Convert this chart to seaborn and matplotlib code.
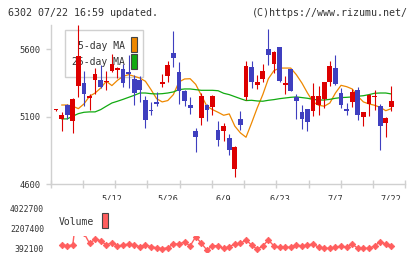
import matplotlib
matplotlib.use('Agg')
import matplotlib.pyplot as plt
import seaborn as sns
import pandas as pd
import numpy as np
from matplotlib.patches import Rectangle

# daily candles, 61 trading days (index 10 = 5/12 ... index 60 = 7/22)
opens = [5149, 5082, 5191, 5068, 5327, 5354, 5240, 5371, 5376, 5359,
         5438, 5450, 5457, 5435, 5383, 5376, 5228, 5151, 5208, 5344,
         5401, 5576, 5435, 5295, 5186, 4998, 5090, 5186, 5171, 5006,
         4994, 4944, 4717, 5087, 5245, 5472, 5334, 5383, 5605, 5494,
         5620, 5334, 5457, 5250, 5137, 5161, 5142, 5186, 5235, 5356,
         5460, 5277, 5161, 5208, 5302, 5097, 5198, 5245, 5184, 5053, 5176]
highs = [5155, 5134, 5196, 5240, 5780, 5443, 5272, 5460, 5487, 5438,
         5566, 5472, 5492, 5561, 5408, 5401, 5253, 5211, 5285, 5420,
         5517, 5734, 5507, 5297, 5248, 5018, 5277, 5196, 5265, 5073,
         5055, 4976, 4885, 5147, 5512, 5512, 5413, 5492, 5753, 5586,
         5620, 5406, 5457, 5272, 5191, 5161, 5351, 5332, 5359, 5512,
         5561, 5314, 5203, 5309, 5322, 5137, 5270, 5299, 5196, 5102, 5332]
lows = [5147, 4994, 5087, 4979, 5245, 5179, 5149, 5270, 5312, 5302,
        5433, 5388, 5319, 5314, 5186, 5211, 5016, 5117, 5179, 5319,
        5359, 5467, 5198, 5179, 5122, 4841, 5038, 5068, 5112, 4883,
        4920, 4821, 4653, 5006, 5228, 5314, 5307, 5356, 5482, 5425,
        5356, 5272, 5290, 5085, 5011, 4994, 5105, 5117, 5166, 5327,
        5339, 5166, 5117, 5171, 5075, 5031, 5105, 5154, 4858, 4949, 5147]
closes = [5153, 5117, 5112, 5235, 5554, 5267, 5253, 5420, 5324, 5369,
          5494, 5460, 5349, 5415, 5280, 5297, 5075, 5142, 5198, 5361,
          5487, 5534, 5290, 5221, 5166, 4949, 5257, 5149, 5257, 4927,
          5031, 4858, 4880, 5038, 5477, 5356, 5361, 5443, 5556, 5581,
          5364, 5354, 5290, 5216, 5087, 5060, 5253, 5257, 5359, 5480,
          5344, 5186, 5142, 5285, 5112, 5134, 5265, 5255, 5031, 5090, 5220]

# moving averages and volume, from index 1 to 60
ma5 = [5188, 5188, 5179, 5161, 5196, 5253, 5277, 5314, 5364, 5332,
       5371, 5401, 5413, 5401, 5388, 5364, 5302, 5235, 5211, 5221,
       5265, 5359, 5381, 5383, 5341, 5260, 5179, 5154, 5134, 5112,
       5122, 5031, 4981, 4949, 5055, 5166, 5265, 5383, 5443, 5462,
       5462, 5462, 5413, 5351, 5277, 5211, 5186, 5179, 5203, 5277,
       5334, 5324, 5307, 5253, 5211, 5196, 5186, 5171, 5146, 5161]
ma25 = [5085, 5085, 5105, 5124, 5134, 5137, 5137, 5154, 5179, 5203,
        5216, 5230, 5245, 5260, 5277, 5277, 5272, 5270, 5272, 5277,
        5285, 5302, 5307, 5307, 5302, 5297, 5297, 5297, 5294, 5275,
        5265, 5250, 5235, 5221, 5223, 5218, 5216, 5223, 5228, 5235,
        5240, 5245, 5248, 5243, 5238, 5230, 5225, 5225, 5230, 5238,
        5243, 5245, 5248, 5253, 5257, 5265, 5275, 5277, 5277, 5270]
volume = [692000, 628000, 692000, 4900000, 1770000, 846000, 1209000, 1082000, 692000, 901000,
          601000, 692000, 782000, 692000, 537000, 692000, 537000, 447000, 356000, 447000,
          782000, 782000, 964000, 601000, 1445000, 846000, 238000, 628000, 628000, 392000,
          537000, 782000, 846000, 1145000, 692000, 301000, 601000, 1145000, 601000, 483000,
          483000, 483000, 692000, 601000, 692000, 782000, 483000, 392000, 392000, 483000,
          601000, 483000, 782000, 392000, 392000, 392000, 601000, 991000, 782000, 601000]

date_pos = [10, 20, 30, 40, 50, 60]
date_labels = ['5/12', '5/26', '6/9', '6/23', '7/7', '7/22']
price_ticks = [4600, 5100, 5600]
vol_ticks = [392100, 2207400, 4022700]

red = '#dd0000'
blue = '#3f3fbf'
orange = '#ee8800'
green = '#11aa11'
vol_color = '#ff5e5e'
axis_gray = '#d0d0d0'
text_col = '#333333'

sns.set_style('white')
plt.rcParams['font.family'] = ['DejaVu Sans Mono', 'DejaVu Sans']

fig = plt.figure(figsize=(4.2, 2.59), dpi=100)
ax = fig.add_axes([0.1207, 0.2884, 0.8443, 0.617])
axv = fig.add_axes([0.1207, 0.027, 0.8443, 0.2008])

df = pd.DataFrame({'i': range(len(opens)), 'o': opens, 'h': highs, 'l': lows, 'c': closes})
cols = np.where(df.c >= df.o, red, blue)
ax.vlines(df.i, df.l, df.h, colors=cols, lw=0.8, zorder=3)
body_low = np.minimum(df.o, df.c)
body_h = np.maximum(np.abs(df.c - df.o), 8)
ax.bar(df.i, body_h, bottom=body_low, width=0.85, color=cols, linewidth=0, zorder=4)

ma_x = list(range(1, 61))
sns.lineplot(x=ma_x, y=ma5, ax=ax, color=orange, lw=0.9, zorder=2)
sns.lineplot(x=ma_x, y=ma25, ax=ax, color=green, lw=0.9, zorder=2)

xlim = (-0.95, 62.5)
ax.set_xlim(*xlim)
ax.set_ylim(4600, 5785)
ax.set_xticks(np.linspace(xlim[0], xlim[1], 12))
ax.set_xticklabels([])
ax.set_xticks(date_pos, minor=True)
ax.set_xticklabels(date_labels, minor=True, fontsize=6.2, color=text_col)
ax.tick_params(axis='x', which='major', bottom=True, direction='inout', length=5.8,
               width=1, color=axis_gray)
ax.tick_params(axis='x', which='minor', bottom=True, length=0, pad=7.5)
ax.set_yticks(price_ticks)
ax.set_yticklabels([str(t) for t in price_ticks], fontsize=6.3, color=text_col)
ax.tick_params(axis='y', left=True, direction='out', length=3.6, width=1,
               color=axis_gray, pad=3.5)
for s in ['top', 'right']:
    ax.spines[s].set_visible(False)
for s in ['left', 'bottom']:
    ax.spines[s].set_color(axis_gray)
    ax.spines[s].set_linewidth(1)

# legend box
ax.add_patch(Rectangle((0.0403, 0.6715), 0.22, 0.294, transform=ax.transAxes,
                       facecolor='white', edgecolor=axis_gray, lw=1, zorder=1))
ax.text(0.2082, 0.8655, '5-day MA', transform=ax.transAxes, ha='right', va='center',
        fontsize=7, color=text_col, zorder=1.5)
ax.text(0.2082, 0.7653, '25-day MA', transform=ax.transAxes, ha='right', va='center',
        fontsize=7, color=text_col, zorder=1.5)
ax.add_patch(Rectangle((0.2265, 0.8279), 0.0169, 0.0939, transform=ax.transAxes,
                       facecolor=orange, edgecolor='#444444', lw=0.8, zorder=1.5))
ax.add_patch(Rectangle((0.2265, 0.7215), 0.0169, 0.0939, transform=ax.transAxes,
                       facecolor=green, edgecolor='#444444', lw=0.8, zorder=1.5))

# volume panel
sns.lineplot(x=ma_x, y=volume, ax=axv, color=vol_color, lw=1, marker='D',
             markersize=3.3, markeredgecolor=vol_color, markeredgewidth=0.6)
axv.set_xlim(*xlim)
axv.set_ylim(56000, 4776000)
clip = Rectangle((xlim[0], 56000), xlim[1] - xlim[0], 1550000 - 56000, transform=axv.transData)
for ln in axv.lines:
    ln.set_clip_path(clip)
axv.set_xticks([])
axv.set_yticks(vol_ticks)
axv.set_yticklabels([str(t) for t in vol_ticks], fontsize=5.9, color=text_col)
axv.tick_params(axis='y', length=0, pad=4.8)
for s in axv.spines.values():
    s.set_visible(False)
axv.text(0.0234, 0.583, 'Volume', transform=axv.transAxes, ha='left', va='center',
         fontsize=7, color=text_col)
axv.add_patch(Rectangle((0.1438, 0.4615), 0.0169, 0.2885, transform=axv.transAxes,
                        facecolor=vol_color, edgecolor='#444444', lw=0.8))

fig.text(8 / 420, 1 - 12.5 / 259, '6302 07/22 16:59 updated.', ha='left', va='center',
         fontsize=7.2, color=text_col)
fig.text(408 / 420, 1 - 12.5 / 259, '(C)https://www.rizumu.net/', ha='right', va='center',
         fontsize=7.2, color=text_col)

fig.savefig('out.png', dpi=100)
